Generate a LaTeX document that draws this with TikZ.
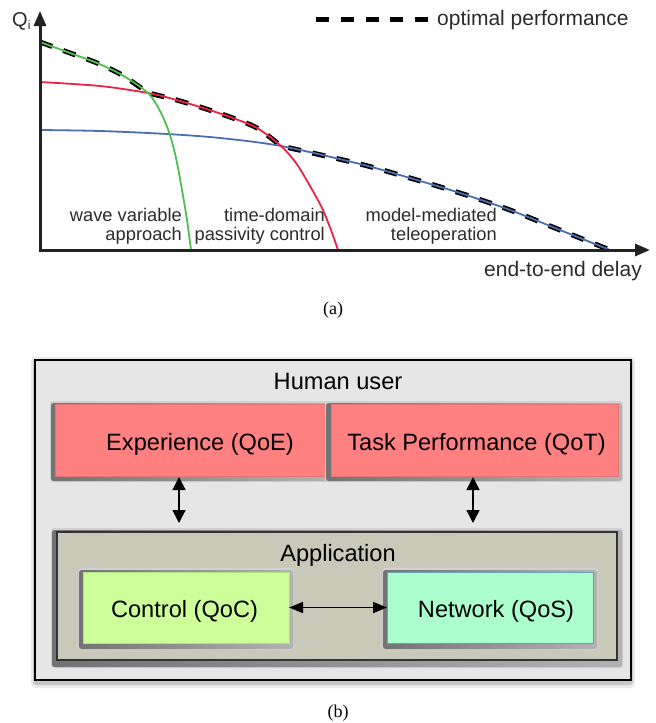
\documentclass[tikz,border=0pt]{standalone}
\usepackage{fontspec}
\setmainfont{Liberation Sans}
\newfontfamily\capfont{Liberation Serif}
\usetikzlibrary{arrows.meta}
\definecolor{cgreen}{HTML}{4DBF4D}
\definecolor{cred}{HTML}{EE2244}
\definecolor{cblue}{HTML}{4A6EAE}
\definecolor{axisgray}{HTML}{222222}
\definecolor{txtgray}{HTML}{2B2B2B}
\definecolor{outerfill}{HTML}{E6E6E6}
\definecolor{pinkfill}{HTML}{FF8080}
\definecolor{pinkline}{HTML}{E67373}
\definecolor{appfill}{HTML}{C8C9B9}
\definecolor{ctrlfill}{HTML}{CCFF99}
\definecolor{ctrlline}{HTML}{B0E088}
\definecolor{netfill}{HTML}{AAFFCC}
\definecolor{netline}{HTML}{6F9FB0}
\newcommand{\innershadow}[4]{%
  \fill[black!18, rounded corners=3pt] (#1-1,#2-1) rectangle (#3+1,#4+1);
  \shade[left color=black!55, right color=black!30, rounded corners=2.5pt] (#1,#2+1) rectangle (#3,#4);
}
\begin{document}
\begin{tikzpicture}[x=1pt,y=-1pt,
  axis/.style={line width=3pt, draw=axisgray, line join=miter,
    {Triangle[length=15pt,width=12pt]}-{Triangle[length=15pt,width=12pt]}},
  optline/.style={line width=5pt, draw=black, dash pattern=on 13pt off 11.75pt},
  curve/.style={line width=1.8pt},
  plotlbl/.style={font=\fontsize{18.3}{19}\selectfont, text=txtgray, inner sep=0pt, align=right, anchor=east},
  bigtxt/.style={font=\fontsize{21}{24}\selectfont, text=txtgray, inner sep=0pt},
  boxtxt/.style={font=\fontsize{23.6}{28}\selectfont, text=black, inner sep=0pt, anchor=base},
  captxt/.style={font=\capfont\fontsize{18}{20}\selectfont, text=black, inner sep=0pt, anchor=base},
  panel/.style={inner sep=0pt, outer sep=0pt, anchor=north west},
  dblarrow/.style={line width=1.6pt, draw=black,
    {Triangle[length=13pt,width=13pt]}-{Triangle[length=13pt,width=13pt]}},
  hdblarrow/.style={line width=1.6pt, draw=black,
    {Triangle[length=14pt,width=11pt]}-{Triangle[length=14pt,width=11pt]}},
]
\useasboundingbox (0,0) rectangle (656,723);

% ---------------- (a) ----------------
\coordinate (origin) at (40,250);
\coordinate (ytip) at (40,11);
\coordinate (xtip) at (650,250);

% optimal envelope (dashed), under the curves
\draw[optline]
  plot[smooth] coordinates {(40,42) (70,53) (97,63) (122,75) (148,93)}
  -- plot[smooth] coordinates {(148,93) (173,99) (200,107) (230,117) (257,128) (281,146)}
  -- plot[smooth] coordinates {(281,146) (360,164) (410,178) (460,193) (510,210) (560,230) (610,250)};

\draw[curve, cblue] plot[smooth] coordinates {(40,130) (100,131) (167,134) (220,138) (281,146) (360,164) (410,178) (460,193) (510,210) (560,230) (610,250)};
\draw[curve, cred] plot[smooth] coordinates {(40,82) (100,86) (148,93) (173,99) (200,107) (230,117) (257,128) (281,146) (296,163) (310,186) (322,208) (331,230) (338,250)};
\draw[curve, cgreen] plot[smooth] coordinates {(40,42) (70,53) (97,63) (122,75) (148,93) (160,111) (169,132) (176,158) (182,190) (187,220) (191,250)};

\draw[axis] (ytip) -- (origin) -- (xtip);

\coordinate (legA) at (316,19);
\coordinate (legB) at (428,19);
\draw[optline] (legA) -- (legB);
\node[bigtxt, anchor=base west] (legt) at (437,25) {optimal performance};

\node[bigtxt, font=\fontsize{20}{24}\selectfont, anchor=base west] (ylab) at (12,26) {Q{\fontsize{12}{12}\selectfont\raisebox{-3pt}{i}}};
\node[bigtxt, anchor=base east] (xlab) at (642,276) {end-to-end delay};

\node[plotlbl] (lwave) at (182,226) {wave variable\\approach};
\node[plotlbl] (ltdpc) at (325,226) {time-domain\\passivity control};
\node[plotlbl] (lmmt) at (497,226) {model-mediated\\teleoperation};

\node[captxt] (capa) at (333,314) {(a)};

% ---------------- (b) ----------------
\fill[black!8, rounded corners=4pt] (31,357) rectangle (635,688);
\fill[black!22, rounded corners=3pt] (33,359) rectangle (633,685);
\node[panel, fill=outerfill, draw=black, line width=1.2pt, minimum width=596pt, minimum height=320pt] (human) at (35,360) {};
\node[boxtxt] (humant) at (338,389) {Human user};

\innershadow{51}{402}{331}{481}
\node[panel, fill=pinkfill, draw=pinkline, line width=0.6pt, minimum width=272pt, minimum height=72pt] (exp) at (55,404) {};
\innershadow{326}{402}{622}{481}
\node[panel, fill=pinkfill, draw=pinkline, line width=0.6pt, minimum width=287pt, minimum height=72pt] (task) at (331,404) {};
\node[boxtxt] (expt) at (200,450) {Experience (QoE)};
\node[boxtxt] (taskt) at (476.5,450) {Task Performance (QoT)};

\innershadow{52}{529}{622}{667}
\node[panel, fill=appfill, draw=black!80, line width=1.2pt, minimum width=560pt, minimum height=128pt] (app) at (57,532) {};
\node[boxtxt] (appt) at (338,561) {Application};

\innershadow{79}{569}{293}{649}
\node[panel, fill=ctrlfill, draw=ctrlline, line width=0.6pt, minimum width=206pt, minimum height=71pt] (ctrl) at (83,572) {};
\innershadow{383}{569}{597}{649}
\node[panel, fill=netfill, draw=netline, line width=0.6pt, minimum width=206pt, minimum height=71pt] (net) at (387,572) {};
\node[boxtxt] (ctrlt) at (184.5,617) {Control (QoC)};
\node[boxtxt] (nett) at (496,617) {Network (QoS)};

\coordinate (ax1) at (179,500);
\coordinate (ax2) at (473,500);
\draw[dblarrow, shorten <=1pt, shorten >=9pt] (exp.south -| ax1) -- (app.north -| ax1);
\draw[dblarrow, shorten <=1pt, shorten >=9pt] (task.south -| ax2) -- (app.north -| ax2);
\draw[hdblarrow] (ctrl.east) -- (net.west);

\node[captxt] (capb) at (338,717) {(b)};
\end{tikzpicture}
\end{document}
